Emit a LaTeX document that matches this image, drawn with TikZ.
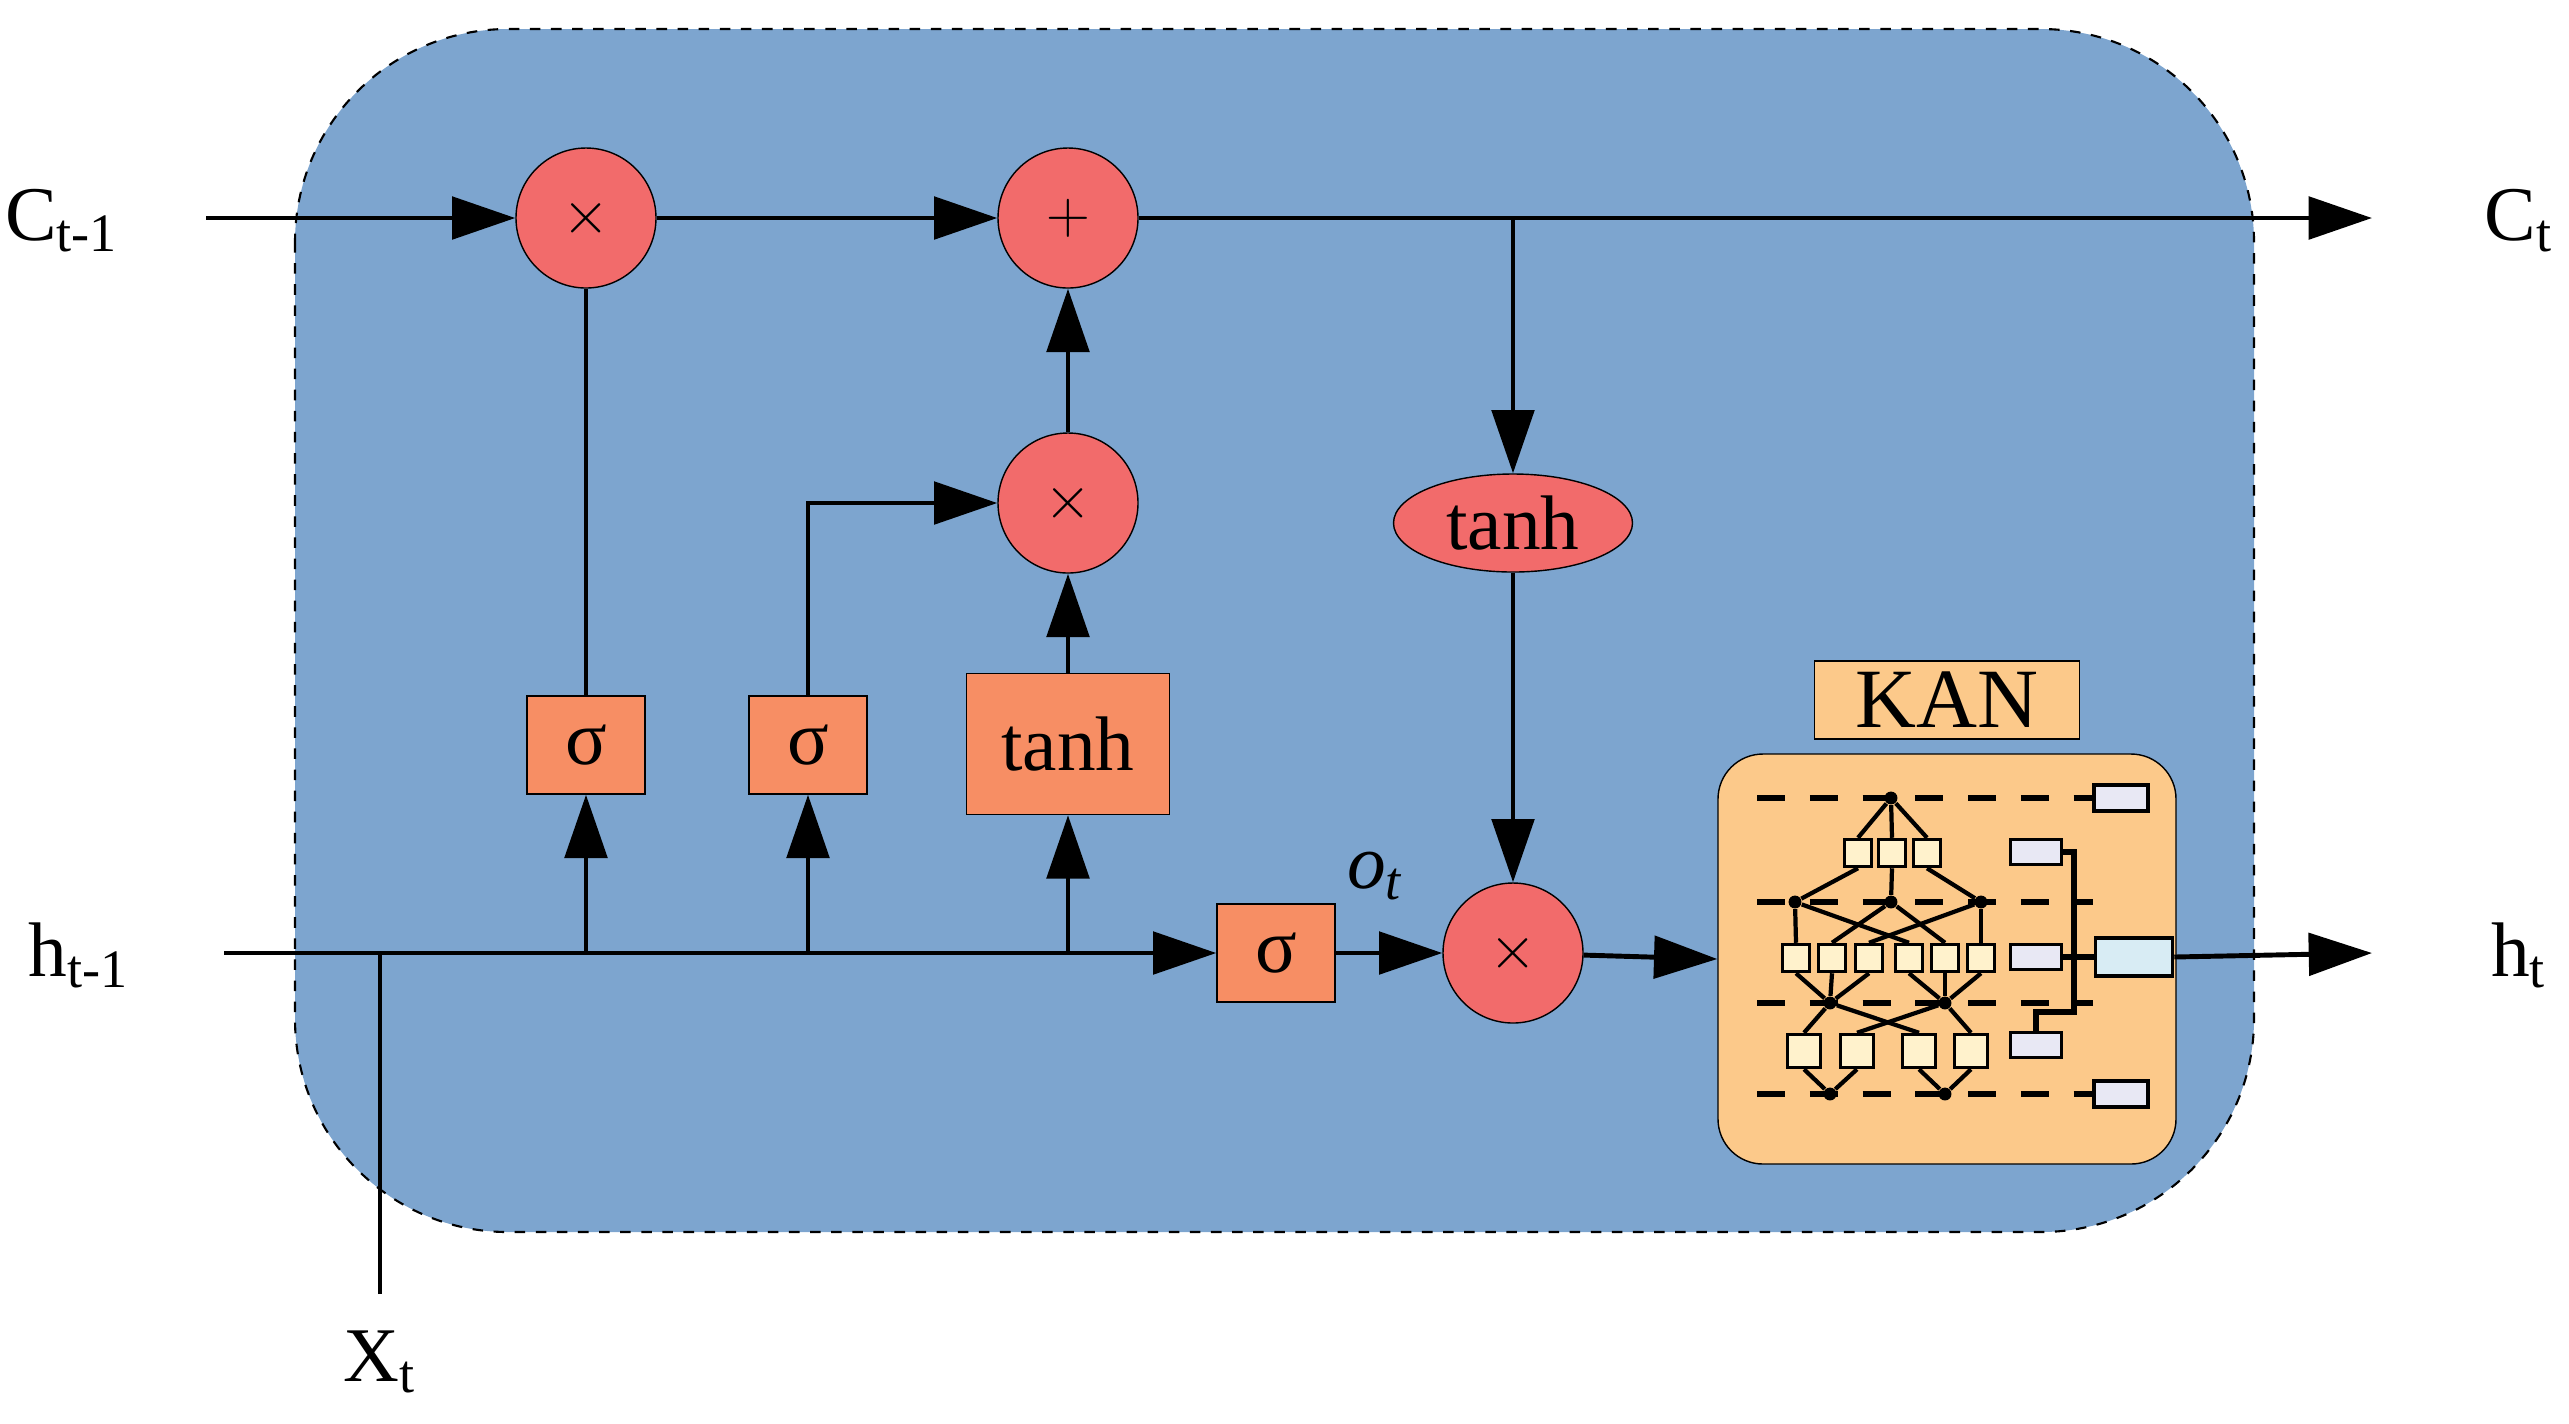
\documentclass[tikz,border=0pt]{standalone}
\usepackage{fontspec}
\setmainfont{Liberation Serif}
\usetikzlibrary{arrows.meta,shapes.geometric}
\definecolor{bg}{HTML}{7DA5CF}
\definecolor{cir}{HTML}{F26B6B}
\definecolor{box}{HTML}{F78E64}
\definecolor{kan}{HTML}{FCC98A}
\definecolor{sm}{HTML}{FFF2CC}
\definecolor{gr}{HTML}{E8E8F4}
\definecolor{lb}{HTML}{D8ECF4}
\tikzset{
 ln/.style={line width=1.4pt},
 ar/.style={ln,-{Triangle[length=18pt,width=12pt]}},
 op/.style={circle,draw,fill=cir,minimum size=140*0.01cm,inner sep=0pt,font=\fontsize{18}{20}\selectfont},
 gate/.style={draw,fill=box,minimum width=118*0.01cm,minimum height=98*0.01cm,inner sep=0pt,font=\fontsize{22}{24}\selectfont},
 lab/.style={font=\fontsize{22}{24}\selectfont},
 sb/.style={draw,fill=sm,line width=1pt,minimum size=27*0.01cm,inner sep=0pt},
 sb2/.style={draw,fill=sm,line width=1pt,minimum size=33*0.01cm,inner sep=0pt},
 dot/.style={circle,fill,inner sep=1.3pt},
 kl/.style={line width=1.2pt},
 kd/.style={line width=1.6pt,dash pattern=on 8pt off 7pt},
}
\begin{document}
\begin{tikzpicture}[x=0.01cm,y=-0.01cm]
\useasboundingbox (0,0) rectangle (2569,1423);
\draw[fill=bg,dashed,line width=0.6pt,rounded corners=213*0.01cm] (295,29) rectangle (2254,1232);
% labels
\node[lab] (cin) at (62,221) {C\textsubscript{t-1}};
\node[lab] (cout) at (2519,221) {C\textsubscript{t}};
\node[lab] (hin) at (79,955) {h\textsubscript{t-1}};
\node[lab] (hout) at (2519,955) {h\textsubscript{t}};
\node[lab] (xin) at (380,1362) {X\textsubscript{t}};
\node[font=\itshape\fontsize{22}{24}\selectfont] (ot) at (1375,876) {o\textsubscript{\textit{t}}};
% ops
\node[op] (m1) at (586,218) {$\times$};
\node[op] (p1) at (1068,218) {$+$};
\node[op] (m2) at (1068,503) {$\times$};
\node[op] (m3) at (1513,953) {$\times$};
\node[ellipse,draw,fill=cir,minimum width=239*0.01cm,minimum height=98*0.01cm,inner sep=0pt,lab] (th2) at (1513,523) {tanh};
\node[gate] (s1) at (586,745) {σ};
\node[gate] (s2) at (808,745) {σ};
\node[gate,minimum width=203*0.01cm,minimum height=141*0.01cm] (th1) at (1068,744) {tanh};
\node[gate] (s3) at (1276,953) {σ};
% KAN
\node[draw,fill=kan,minimum width=265*0.01cm,minimum height=78*0.01cm,inner sep=0pt,font=\fontsize{24}{26}\selectfont] (kanl) at (1947,700) {KAN};
\node[draw,fill=kan,rounded corners=45*0.01cm,minimum width=458*0.01cm,minimum height=410*0.01cm,inner sep=0pt] (kan) at (1947,959) {};
% coordinates
\coordinate (c0) at (206,218);
\coordinate (cend) at (2372,218);
\coordinate (h0) at (224,953);
\coordinate (x0) at (380,1294);
\coordinate (xj) at (380,953);
\coordinate (j1) at (586,953);
\coordinate (j2) at (808,953);
\coordinate (j3) at (1068,953);
\coordinate (ct) at (1513,218);
\coordinate (hend) at (2372,953);
% connectors
\draw[ar] (c0) -- (m1);
\draw[ar] (m1) -- (p1);
\draw[ar] (p1) -- (cend);
\draw[ar] (ct) -- (th2);
\draw[ar] (th2) -- (m3);
\draw[ln] (s1) -- (m1);
\draw[ar] (m2) -- (p1);
\draw[ar] (th1) -- (m2);
\draw[ar] (s2.north) |- (m2);
\draw[ln] (x0) -- (xj);
\draw[ln] (h0) -- (j3);
\draw[ar] (j3) -- (s3);
\draw[ar] (j1) -- (s1);
\draw[ar] (j2) -- (s2);
\draw[ar] (j3) -- (th1);
\draw[ar] (s3) -- (m3);
\draw[ar] (m3) -- (kan.west);
% KAN internals
\foreach \y in {798,902,1003,1094} \draw[kd] (1757,\y) -- (2093,\y);
\node[dot] (t0) at (1891,798) {};
\node[sb] (a1) at (1858,853) {}; \node[sb] (a2) at (1892,853) {}; \node[sb] (a3) at (1927,853) {};
\node[dot] (d1) at (1795,902) {}; \node[dot] (d2) at (1891,902) {}; \node[dot] (d3) at (1981,902) {};
\node[sb] (b1) at (1796,958) {}; \node[sb] (b2) at (1832,958) {}; \node[sb] (b3) at (1869,958) {};
\node[sb] (b4) at (1909,958) {}; \node[sb] (b5) at (1945,958) {}; \node[sb] (b6) at (1981,958) {};
\node[dot] (e1) at (1830,1003) {}; \node[dot] (e2) at (1945,1003) {};
\node[sb2] (f1) at (1804,1051) {}; \node[sb2] (f2) at (1857,1051) {}; \node[sb2] (f3) at (1919,1051) {}; \node[sb2] (f4) at (1971,1051) {};
\node[dot] (g1) at (1830,1094) {}; \node[dot] (g2) at (1945,1094) {};
\foreach \b in {a1,a2,a3} \draw[kl] (t0) -- (\b.north);
\draw[kl] (a1.south) -- (d1); \draw[kl] (a2.south) -- (d2); \draw[kl] (a3.south) -- (d3);
\draw[kl] (d1) -- (b1.north); \draw[kl] (d1) -- (b4.north);
\draw[kl] (d2) -- (b2.north); \draw[kl] (d2) -- (b5.north);
\draw[kl] (d3) -- (b3.north); \draw[kl] (d3) -- (b6.north);
\foreach \b in {b1,b2,b3} \draw[kl] (\b.south) -- (e1);
\foreach \b in {b4,b5,b6} \draw[kl] (\b.south) -- (e2);
\draw[kl] (e1) -- (f1.north); \draw[kl] (e1) -- (f3.north);
\draw[kl] (e2) -- (f2.north); \draw[kl] (e2) -- (f4.north);
\draw[kl] (f1.south) -- (g1); \draw[kl] (f2.south) -- (g1);
\draw[kl] (f3.south) -- (g2); \draw[kl] (f4.south) -- (g2);
\node[draw,fill=gr,line width=1pt,minimum width=54*0.01cm,minimum height=26*0.01cm,inner sep=0pt] (r1) at (2121,798) {};
\node[draw,fill=gr,line width=1pt,minimum width=51*0.01cm,minimum height=25*0.01cm,inner sep=0pt] (r2) at (2036,852) {};
\node[draw,fill=gr,line width=1pt,minimum width=51*0.01cm,minimum height=25*0.01cm,inner sep=0pt] (r3) at (2036,957) {};
\node[draw,fill=lb,line width=1pt,minimum width=77*0.01cm,minimum height=38*0.01cm,inner sep=0pt] (rb) at (2134,957) {};
\node[draw,fill=gr,line width=1pt,minimum width=51*0.01cm,minimum height=25*0.01cm,inner sep=0pt] (r4) at (2036,1045) {};
\node[draw,fill=gr,line width=1pt,minimum width=54*0.01cm,minimum height=26*0.01cm,inner sep=0pt] (r5) at (2121,1094) {};
\coordinate (k1) at (2074,852);
\coordinate (k2) at (2074,1012);
\coordinate (k3) at (2036,1012);
\draw[kl,line width=1.6pt] (r2.east) -- (k1) -- (k2) -- (k3) -- (r4.north);
\draw[kl,line width=1.6pt] (r3.east) -- (rb.west);
\draw[ar] (rb.east) -- (hend);
\end{tikzpicture}
\end{document}
